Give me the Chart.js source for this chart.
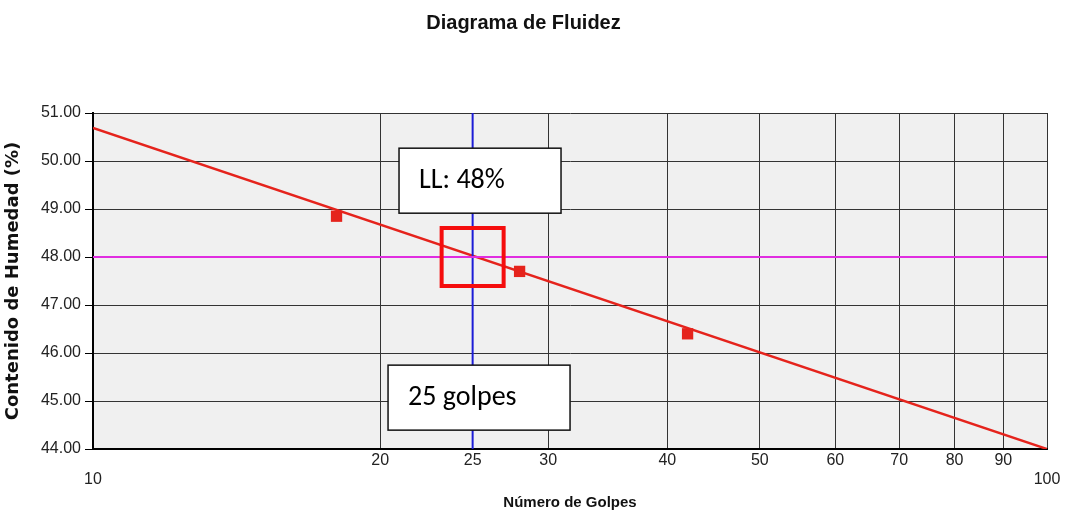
<!DOCTYPE html>
<html>
<head>
<meta charset="utf-8">
<script src="https://cdn.jsdelivr.net/npm/chart.js@4.4.1/dist/chart.umd.min.js"></script>
<style>
  html, body { margin: 0; padding: 0; background: #fff; }
  #wrap { width: 1065px; height: 515px; }
</style>
</head>
<body>
<div id="wrap"><canvas id="fluidez"></canvas></div>
<script>
// ensayo: numero de golpes vs contenido de humedad
const golpes = [18, 28, 42];
const humedad = [48.85, 47.7, 46.4];

// linea de tendencia (log) extremos
const trendGolpes = [10, 100];
const trendHumedad = [50.69, 44.0];

const limiteLiquido = 48;
const golpesRef = 25;

const xTicks = [10, 20, 25, 30, 40, 50, 60, 70, 80, 90, 100];
const yTicks = [44, 45, 46, 47, 48, 49, 50, 51];

const notes = [
    { text: 'LL: 48%', x: 25.45, y: 49.59, w: 162, h: 65 },
    { text: '25 golpes', x: 25.39, y: 45.07, w: 182, h: 65 }
];

const bgPlugin = {
    id: 'plotBg',
    beforeDraw(chart) {
        const { ctx, chartArea: a } = chart;
        ctx.save();
        ctx.fillStyle = '#f0f0f0';
        ctx.fillRect(a.left, a.top, a.right - a.left, a.bottom - a.top);
        ctx.restore();
    }
};

const notesPlugin = {
    id: 'notes',
    afterDatasetsDraw(chart) {
        const { ctx } = chart;
        const xs = chart.scales.x, ys = chart.scales.y;
        ctx.save();
        // recuadro rojo en la interseccion
        const cx = xs.getPixelForValue(golpesRef), cy = ys.getPixelForValue(limiteLiquido);
        ctx.strokeStyle = '#f50d0d';
        ctx.lineWidth = 4;
        ctx.strokeRect(cx - 31, cy - 29, 62, 58);

        notes.forEach(n => {
            const px = xs.getPixelForValue(n.x), py = ys.getPixelForValue(n.y);
            const l = px - n.w / 2, t = py - n.h / 2;
            ctx.fillStyle = '#fff';
            ctx.fillRect(l, t, n.w, n.h);
            ctx.strokeStyle = '#111';
            ctx.lineWidth = 1.5;
            ctx.strokeRect(l, t, n.w, n.h);
            ctx.fillStyle = '#000';
            ctx.font = '28px Carlito, Lato, sans-serif';
            ctx.textBaseline = 'middle';
            ctx.fillText(n.text, l + 20, py);
        });
        ctx.restore();
    }
};

new Chart(document.getElementById('fluidez'), {
    type: 'scatter',
    data: {
        datasets: [
            {
                label: 'LL',
                data: trendGolpes.map(g => ({ x: g, y: limiteLiquido })),
                showLine: true,
                borderColor: '#e02de0',
                borderWidth: 2,
                pointRadius: 0
            },
            {
                label: '25 golpes',
                data: [{ x: golpesRef, y: yTicks[0] }, { x: golpesRef, y: yTicks[yTicks.length - 1] }],
                showLine: true,
                borderColor: '#1c1cd6',
                borderWidth: 2,
                pointRadius: 0
            },
            {
                label: 'Tendencia',
                data: trendGolpes.map((g, i) => ({ x: g, y: trendHumedad[i] })),
                showLine: true,
                borderColor: '#e5231c',
                borderWidth: 2.5,
                pointRadius: 0
            },
            {
                label: 'Ensayos',
                data: golpes.map((g, i) => ({ x: g, y: humedad[i] })),
                pointStyle: 'rect',
                pointRadius: 8,
                backgroundColor: '#e5231c',
                borderColor: '#e5231c',
                borderWidth: 0
            }
        ]
    },
    options: {
        responsive: true,
        maintainAspectRatio: false,
        animation: false,
        layout: { padding: { top: 0, right: 18, bottom: 0, left: 0 } },
        plugins: {
            legend: { display: false },
            tooltip: { enabled: false },
            title: {
                display: true,
                text: 'Diagrama de Fluidez',
                color: '#111',
                font: { family: '"Liberation Sans", Arial, sans-serif', size: 20, weight: 'bold' },
                padding: { top: 11, bottom: 78 }
            }
        },
        scales: {
            x: {
                type: 'logarithmic',
                min: 10,
                max: 100,
                afterBuildTicks: s => { s.ticks = xTicks.map(v => ({ value: v })); },
                afterFit: s => { s.height = 66; },
                ticks: {
                    autoSkip: false,
                    maxRotation: 0,
                    padding: 2,
                    color: '#222',
                    font: { family: '"Liberation Sans", Arial, sans-serif', size: 16 },
                    callback: v => (v === 10 || v === 100) ? ['', String(v)] : String(v)
                },
                grid: {
                    drawTicks: false,
                    color: c => (c.tick && c.tick.value === golpesRef) ? 'rgba(0,0,0,0)' : '#333',
                    lineWidth: 1
                },
                border: { color: '#000', width: 2 },
                title: {
                    display: true,
                    text: 'Número de Golpes',
                    color: '#111',
                    font: { family: '"Liberation Sans", Arial, sans-serif', size: 15, weight: 'bold' },
                    padding: { top: 4, bottom: 3 }
                }
            },
            y: {
                min: 44,
                max: 51,
                afterBuildTicks: s => { s.ticks = yTicks.map(v => ({ value: v })); },
                afterFit: s => { s.width = 93; },
                ticks: {
                    padding: 4,
                    color: '#222',
                    font: { family: '"Liberation Sans", Arial, sans-serif', size: 16 },
                    callback: v => Number(v).toFixed(2)
                },
                grid: { color: '#333', lineWidth: 1, tickLength: 8, tickColor: '#000' },
                border: { color: '#000', width: 2 },
                title: {
                    display: true,
                    text: 'Contenido de Humedad (%)',
                    color: '#111',
                    font: { family: '"DejaVu Sans", sans-serif', size: 18, weight: 'bold' },
                    padding: { top: 3, bottom: 0 }
                }
            }
        }
    },
    plugins: [bgPlugin, notesPlugin]
});
</script>
</body>
</html>
